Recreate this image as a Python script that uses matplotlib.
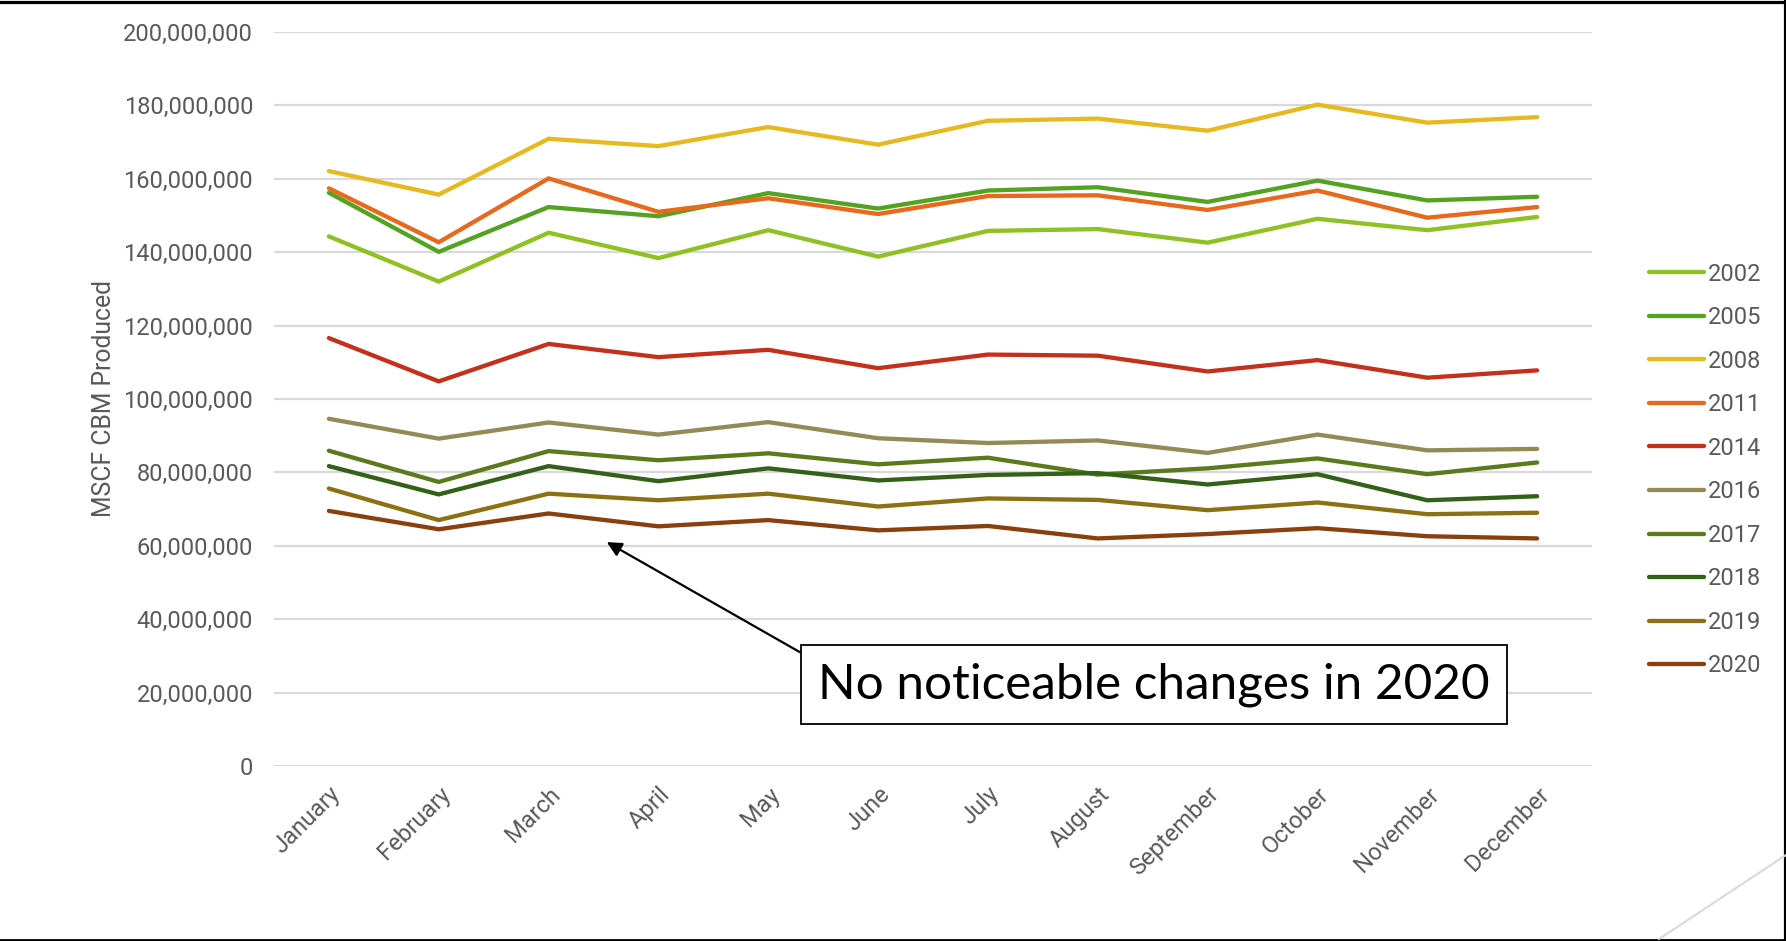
import matplotlib
matplotlib.use("Agg")
import matplotlib.pyplot as plt
from matplotlib.lines import Line2D
from matplotlib.ticker import FuncFormatter, MultipleLocator

# ── monthly CBM production (MSCF), one series per year ──
months = ["January", "February", "March", "April", "May", "June",
          "July", "August", "September", "October", "November", "December"]

y2002 = [144.3e6, 132.0e6, 145.3e6, 138.4e6, 146.0e6, 138.8e6,
         145.8e6, 146.3e6, 142.6e6, 149.1e6, 146.0e6, 149.6e6]
y2005 = [156.2e6, 140.1e6, 152.3e6, 149.8e6, 156.1e6, 151.9e6,
         156.8e6, 157.7e6, 153.7e6, 159.5e6, 154.1e6, 155.1e6]
y2008 = [162.1e6, 155.7e6, 170.9e6, 168.9e6, 174.1e6, 169.3e6,
         175.8e6, 176.4e6, 173.1e6, 180.2e6, 175.3e6, 176.8e6]
y2011 = [157.4e6, 142.7e6, 160.1e6, 151.0e6, 154.7e6, 150.4e6,
         155.3e6, 155.5e6, 151.5e6, 156.8e6, 149.4e6, 152.3e6]
y2014 = [116.6e6, 104.8e6, 115.0e6, 111.4e6, 113.4e6, 108.4e6,
         112.1e6, 111.8e6, 107.5e6, 110.6e6, 105.8e6, 107.8e6]
y2016 = [94.6e6, 89.2e6, 93.6e6, 90.3e6, 93.7e6, 89.3e6,
         88.0e6, 88.7e6, 85.3e6, 90.3e6, 86.0e6, 86.4e6]
y2017 = [85.9e6, 77.4e6, 85.8e6, 83.3e6, 85.2e6, 82.2e6,
         84.0e6, 79.4e6, 81.1e6, 83.8e6, 79.5e6, 82.7e6]
y2018 = [81.7e6, 74.0e6, 81.7e6, 77.6e6, 81.1e6, 77.8e6,
         79.3e6, 79.8e6, 76.7e6, 79.5e6, 72.4e6, 73.5e6]
y2019 = [75.6e6, 67.0e6, 74.2e6, 72.4e6, 74.2e6, 70.7e6,
         72.9e6, 72.5e6, 69.7e6, 71.8e6, 68.6e6, 69.0e6]
y2020 = [69.5e6, 64.5e6, 68.8e6, 65.3e6, 67.0e6, 64.2e6,
         65.4e6, 62.0e6, 63.2e6, 64.8e6, 62.6e6, 62.0e6]

years  = ["2002", "2005", "2008", "2011", "2014", "2016", "2017", "2018", "2019", "2020"]
series = [y2002, y2005, y2008, y2011, y2014, y2016, y2017, y2018, y2019, y2020]
colors = ["#8fc122", "#54a221", "#e7b920", "#e8691b", "#c4301b",
          "#948a57", "#5a7a1b", "#336117", "#8b7113", "#8a3f0f"]

C_TEXT = "#595959"
C_GRID = "#d9d9d9"
LW     = 3.1

plt.rcParams["font.family"] = ["Roboto", "DejaVu Sans"]

fig = plt.figure(figsize=(17.86, 9.41), dpi=100, facecolor="white")
ax = fig.add_axes([0.1534, 0.1860, 0.7380, 0.7800])

for label, vals, col in zip(years, series, colors):
    ax.plot(range(len(months)), vals, color=col, lw=LW, label=label,
            solid_capstyle="round", solid_joinstyle="miter")

ax.set_xlim(-0.5, len(months) - 0.5)
ax.set_ylim(0, 200e6)
ax.yaxis.set_major_locator(MultipleLocator(20e6))
ax.yaxis.set_major_formatter(FuncFormatter(lambda v, _: f"{v:,.0f}"))
ax.grid(axis="y", color=C_GRID, lw=1.6)
ax.set_axisbelow(True)
for spine in ax.spines.values():
    spine.set_visible(False)

ax.set_xticks(range(len(months)))
ax.set_xticklabels(months, rotation=45, ha="right", va="top",
                   rotation_mode="anchor", fontsize=17, color=C_TEXT)
ax.tick_params(axis="x", length=0, pad=12)
ax.tick_params(axis="y", length=0, pad=15, labelsize=17, labelcolor=C_TEXT)
ax.set_ylabel("MSCF CBM Produced", fontsize=17.8, color=C_TEXT, labelpad=5)

leg = fig.legend(loc="center left", bbox_to_anchor=(0.9168, 0.5005),
                 frameon=False, fontsize=17, borderpad=0,
                 handlelength=2.3, handletextpad=0.2, labelspacing=0.87)
for txt in leg.get_texts():
    txt.set_color(C_TEXT)
for h in leg.get_lines():
    h.set_linewidth(LW)
    h.set_solid_capstyle("round")

# callout box with arrow pointing at the 2020 series
ax.annotate("No noticeable changes in 2020",
            xy=(2.53, 61.0e6), xycoords="data",
            xytext=(0.458, 0.2487), textcoords="figure fraction",
            ha="left", va="bottom", fontsize=35.6, color="black",
            family=["Lato", "DejaVu Sans"],
            bbox=dict(boxstyle="square,pad=0.35", fc="white", ec="black", lw=1.3),
            arrowprops=dict(arrowstyle="-|>", color="black", lw=1.6,
                            mutation_scale=22, shrinkA=0, shrinkB=0,
                            relpos=(0.0, 1.0)))

# slide frame edges and corner accent
fig.add_artist(Line2D([0, 1], [0.9984, 0.9984], transform=fig.transFigure, color="black", lw=2.3))
fig.add_artist(Line2D([0.9992, 0.9992], [0, 1], transform=fig.transFigure, color="black", lw=2.3))
fig.add_artist(Line2D([0, 1], [0.0011, 0.0011], transform=fig.transFigure, color="black", lw=2.0))
fig.add_artist(Line2D([0.9289, 1.0], [0.0021, 0.0914], transform=fig.transFigure, color=C_GRID, lw=1.5))

fig.savefig("out.png", dpi=100, facecolor="white")
